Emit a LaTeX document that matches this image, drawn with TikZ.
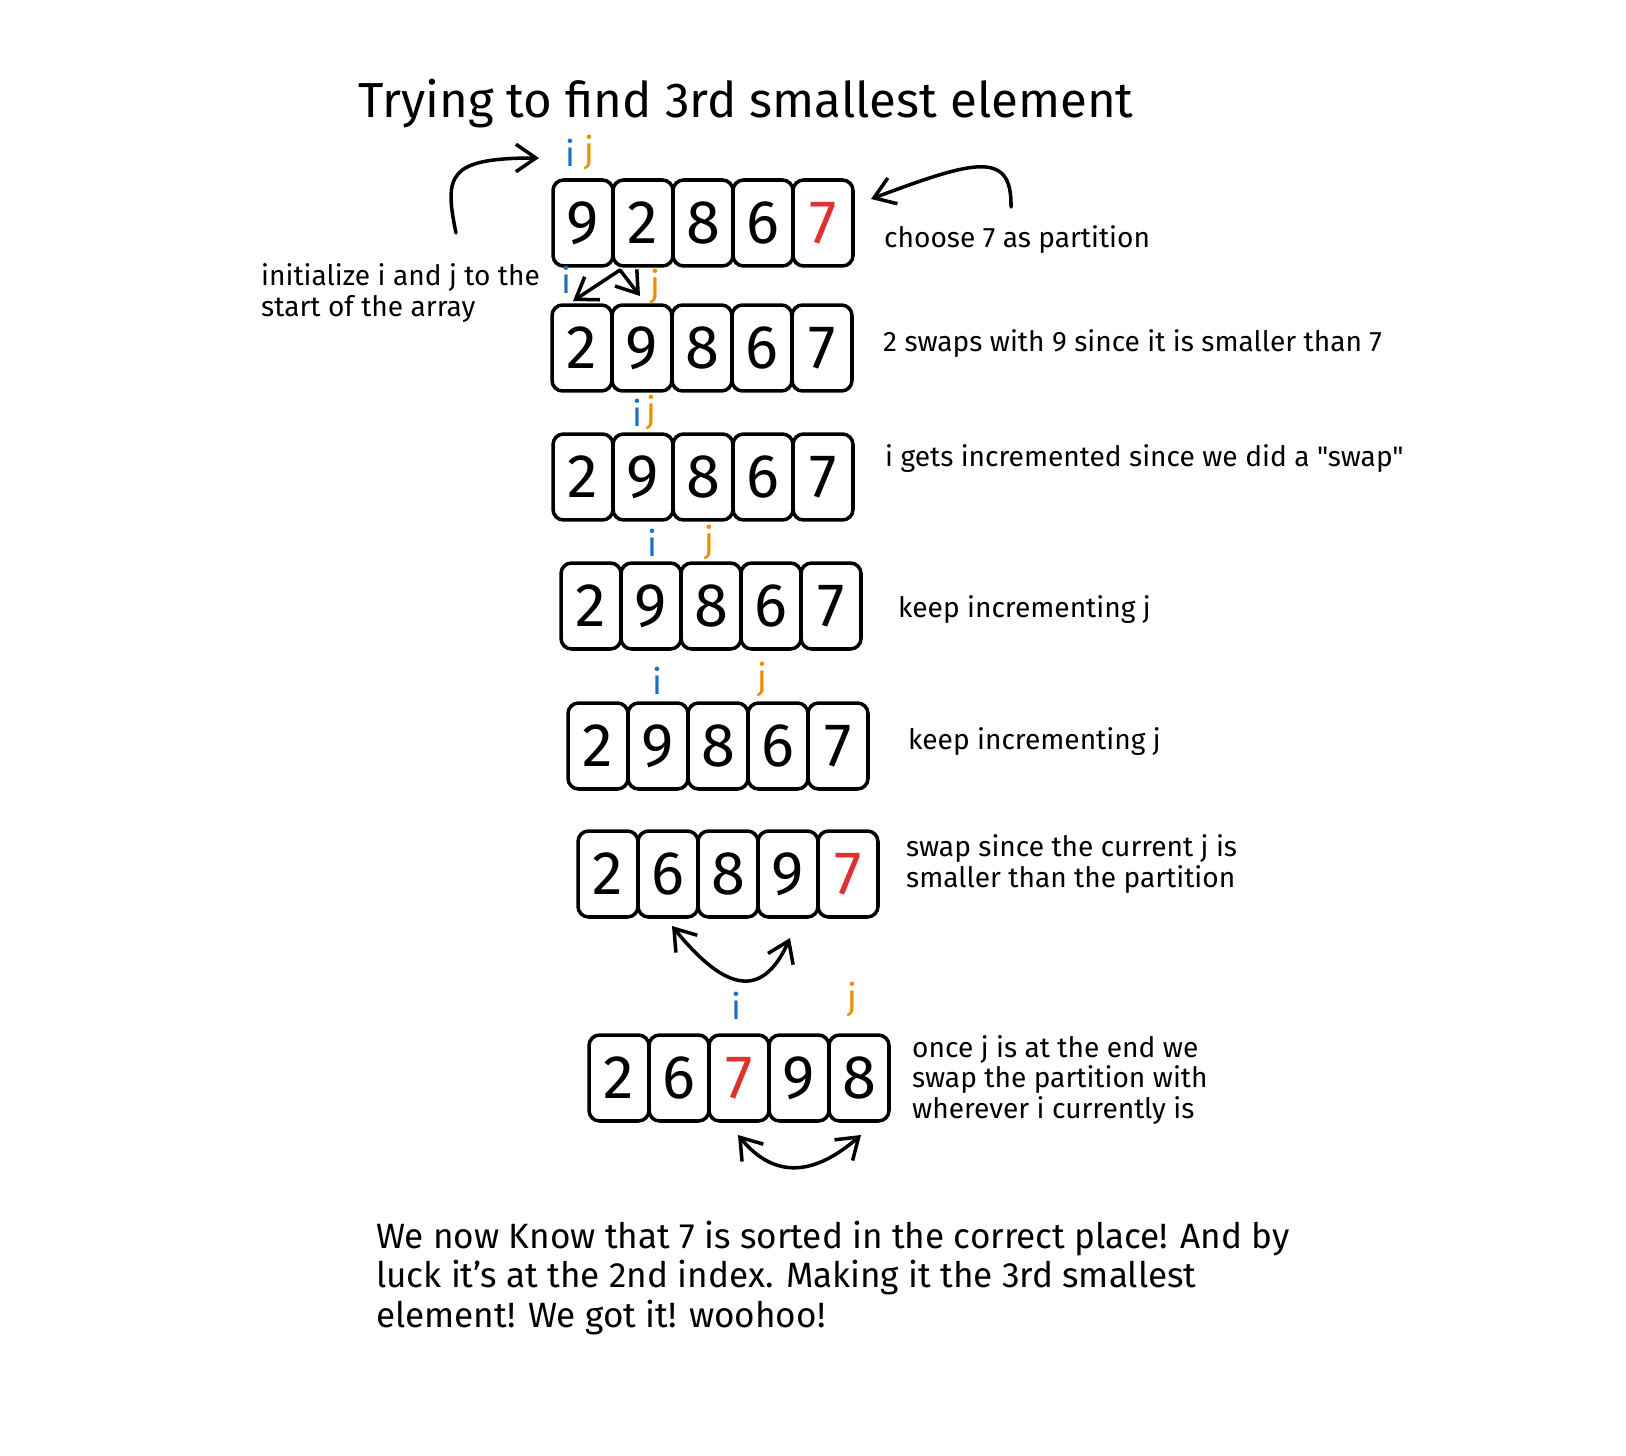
\documentclass[tikz,border=0pt]{standalone}
\usepackage{fontspec}
\setmainfont{Fira Sans}
\newfontfamily\plainq{Fira Sans}[Ligatures=TeXOff]
\usetikzlibrary{positioning,arrows.meta}
\definecolor{iblue}{HTML}{1971C2}
\definecolor{jorange}{HTML}{F08C00}
\definecolor{pivred}{HTML}{E03131}
\tikzset{
  cell/.style={draw,line width=2pt,rounded corners=6pt,minimum width=1.2cm,minimum height=1.72cm,inner sep=0pt,font=\fontsize{35}{35}\selectfont},
  note/.style={anchor=west,align=left,font=\fontsize{16}{17.6}\selectfont},
  ilab/.style={text=iblue,font=\fontsize{20}{20}\selectfont},
  jlab/.style={text=jorange,font=\fontsize{20}{20}\selectfont},
  hand/.style={line width=2pt,line cap=round,line join=round},
  barb/.tip={Straight Barb[length=4mm,width=5.5mm,line width=2pt]}
}

\begin{document}
\begin{tikzpicture}[x=0.02cm,y=-0.02cm]
  \useasboundingbox (0,0) rectangle (1626,1456);
  \node[font=\fontsize{28}{28}\selectfont] (title) at (746,104) {Trying to find 3rd smallest element};

  % rows of the array
  \foreach \v [count=\k] in {9,2,8,6,{\color{pivred}7}}
    \node[cell] (a\k) at ({553+60*\k-30},223) {\v};
  \foreach \v [count=\k] in {2,9,8,6,7}
    \node[cell] (b\k) at ({552+60*\k-30},348) {\v};
  \foreach \v [count=\k] in {2,9,8,6,7}
    \node[cell] (c\k) at ({553+60*\k-30},477) {\v};
  \foreach \v [count=\k] in {2,9,8,6,7}
    \node[cell] (d\k) at ({561+60*\k-30},606) {\v};
  \foreach \v [count=\k] in {2,9,8,6,7}
    \node[cell] (e\k) at ({568+60*\k-30},746) {\v};
  \foreach \v [count=\k] in {2,6,8,9,{\color{pivred}7}}
    \node[cell] (f\k) at ({578+60*\k-30},874) {\v};
  \foreach \v [count=\k] in {2,6,{\color{pivred}7},9,8}
    \node[cell] (g\k) at ({589+60*\k-30},1078) {\v};

  % i and j
  \node[ilab] (ia) at (570,153) {i};
  \node[jlab] (ja) at (589,153) {j};
  \node[ilab] (ib) at (566,280) {i};
  \node[jlab] (jb) at (655,287) {j};
  \node[ilab] (ic) at (637,413) {i};
  \node[jlab] (jc) at (651,413) {j};
  \node[ilab] (id) at (652,543) {i};
  \node[jlab] (jd) at (709,543) {j};
  \node[ilab] (ie) at (657,681) {i};
  \node[jlab] (je) at (762,680) {j};
  \node[ilab] (ig) at (736,1006) {i};
  \node[jlab] (jg) at (852,1000) {j};

  % notes
  \node[note] (init) at (255,293) {initialize i and j to the\\start of the array};
  \node[note] (na) at (878,240) {choose 7 as partition};
  \node[note] (nb) at (877,344) {2 swaps with 9 since it is smaller than 7};
  \node[note] (nc) at (879,459) {i gets incremented since we did a {\plainq"swap"}};
  \node[note] (nd) at (892,610) {keep incrementing j};
  \node[note] (ne) at (902,742) {keep incrementing j};
  \node[note] (nf) at (900,864) {swap since the current j is\\smaller than the partition};
  \node[note] (ng) at (906,1080) {once j is at the end we\\swap the partition with\\wherever i currently is};
  \node[anchor=west,align=left,font=\fontsize{20}{22.3}\selectfont] (done) at (370,1278)
    {We now Know that 7 is sorted in the correct place! And by\\luck it's at the 2nd index. Making it the 3rd smallest\\element! We got it! woohoo!};

  % arrows
  \coordinate (s1) at (456,233);
  \coordinate (e1) at (539,158);
  \draw[hand,-barb] (s1) .. controls (444,175) and (448,158) .. (e1);
  \coordinate (s2) at (1011,207);
  \coordinate (e2) at (871,199);
  \draw[hand,-barb] (s2) .. controls (1012,150) and (975,160) .. (e2);
  \coordinate (sw1) at (573,301);
  \coordinate (sw2) at (620,270);
  \coordinate (sw3) at (640,296);
  \draw[hand,barb-barb] (sw1) -- (sw2) -- (sw3);
  \coordinate (sf1) at (672,926);
  \coordinate (sf2) at (790,938);
  \draw[hand,barb-barb] (sf1) .. controls (720,985) and (760,1005) .. (sf2);
  \coordinate (sg1) at (738,1135);
  \coordinate (sg2) at (861,1135);
  \draw[hand,barb-barb] (sg1) .. controls (775,1180) and (815,1175) .. (sg2);
\end{tikzpicture}
\end{document}
